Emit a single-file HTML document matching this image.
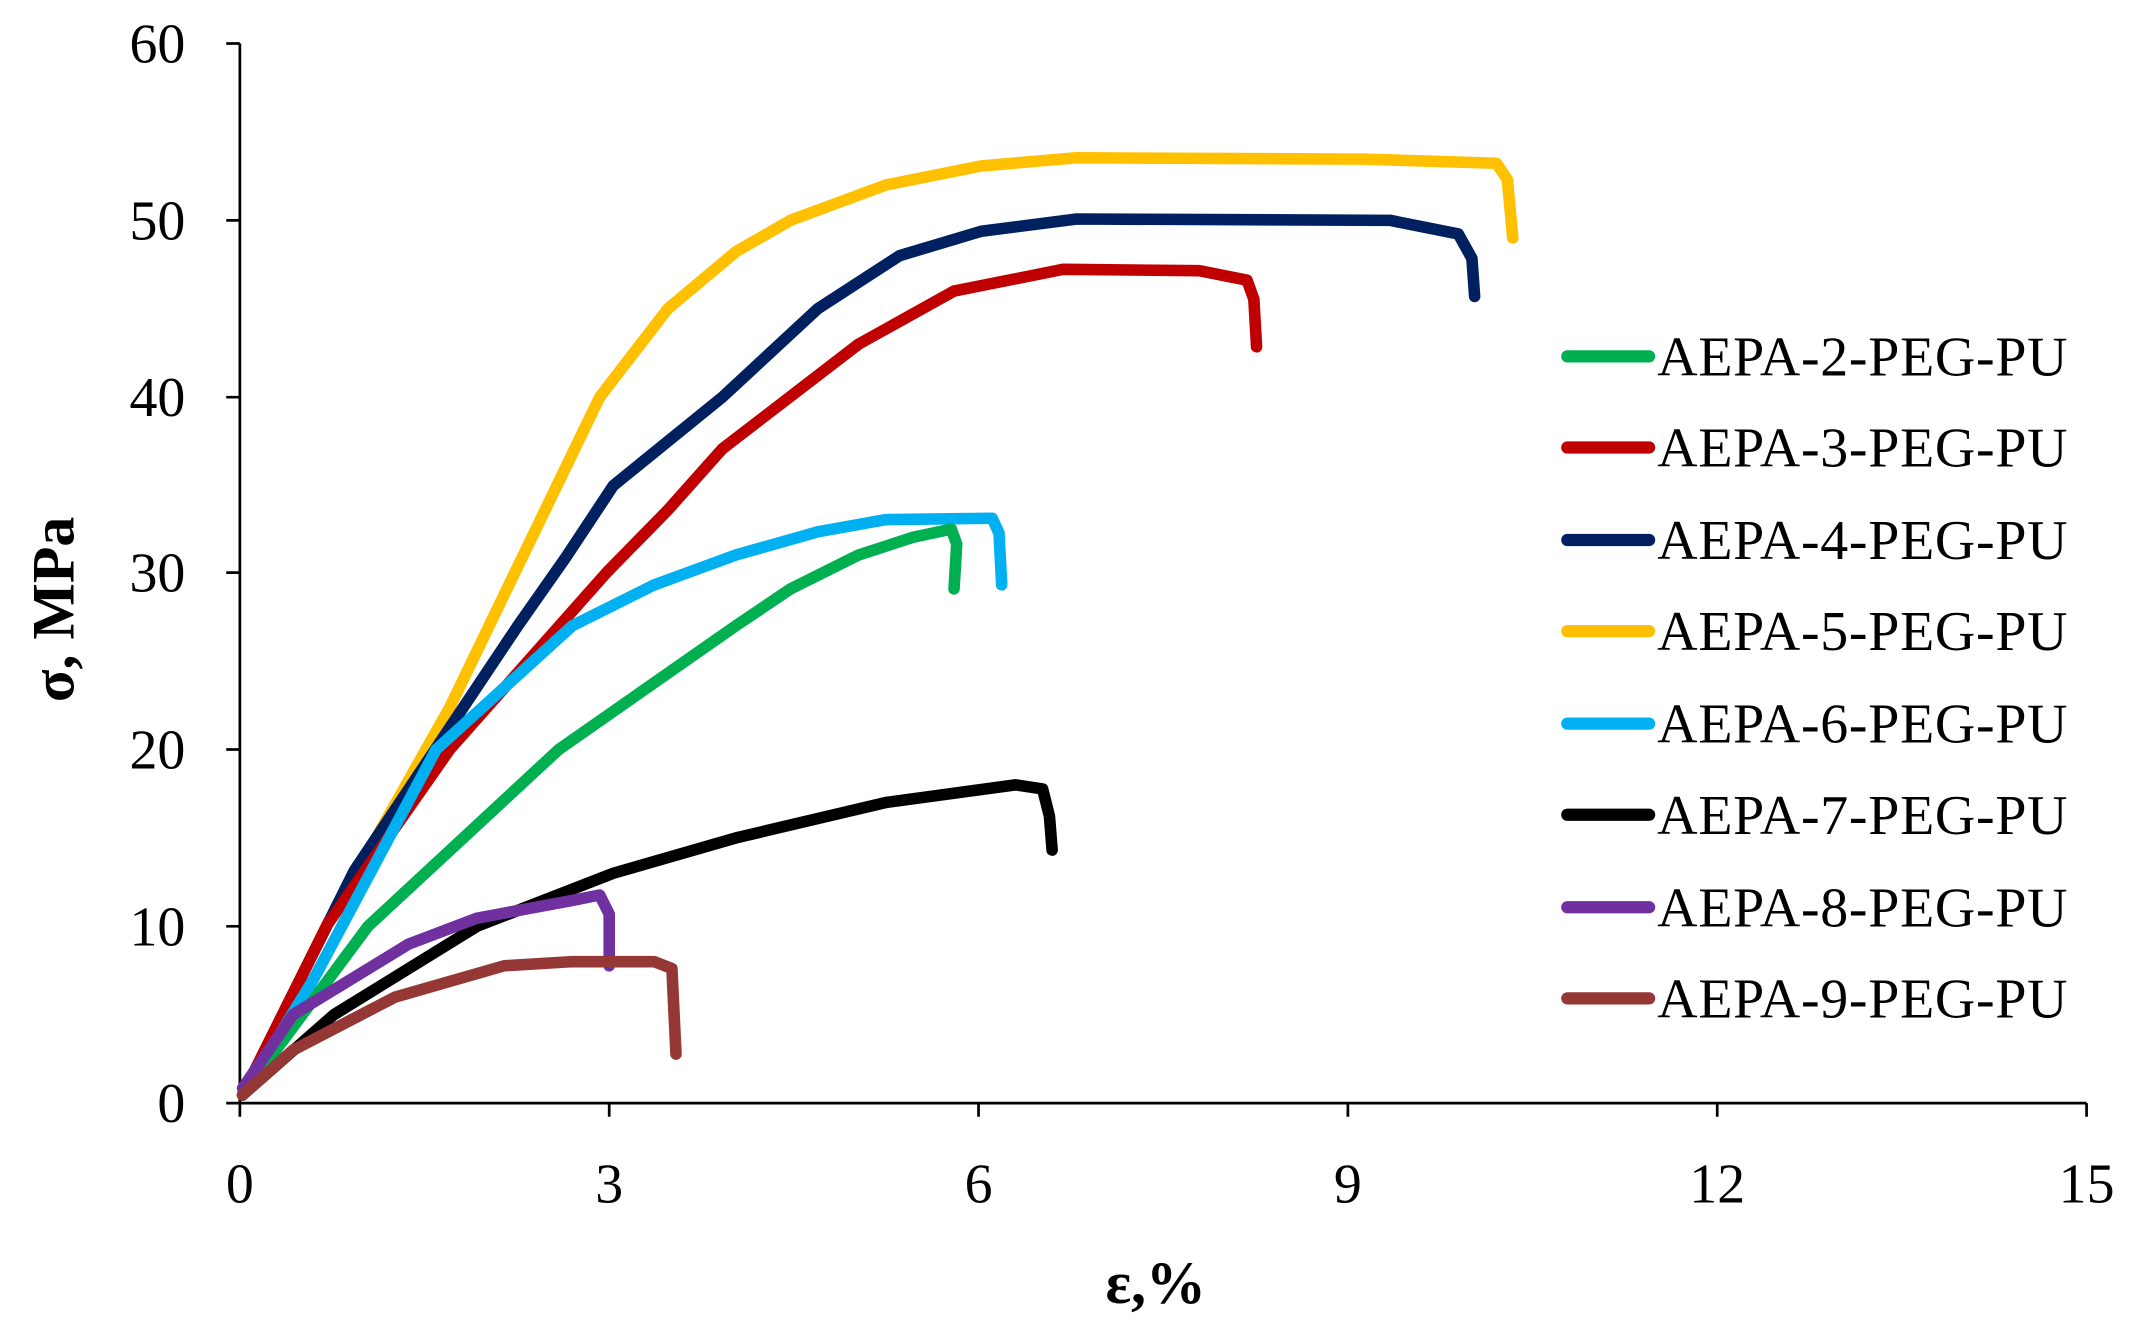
<!DOCTYPE html>
<html><head><style>html,body{margin:0;padding:0;background:#fff}svg{display:block}</style></head><body>
<svg width="2137" height="1333" viewBox="0 0 1568 980" preserveAspectRatio="none" xmlns="http://www.w3.org/2000/svg" font-family="Liberation Serif, serif">
<g stroke="#000" stroke-width="2" fill="none">
<path d="M176,32 V811 H1531"/>
<path d="M176,32 h-10 M176,162 h-10 M176,292 h-10 M176,421 h-10 M176,551 h-10 M176,681 h-10 M176,811 h-10"/>
<path d="M176,811 v10 M447,811 v10 M718,811 v10 M989,811 v10 M1260,811 v10 M1531,811 v10"/>
</g>
<g font-size="41" text-anchor="end" fill="#000">
<text x="136" y="46">60</text><text x="136" y="176">50</text><text x="136" y="306">40</text><text x="136" y="435">30</text><text x="136" y="565">20</text><text x="136" y="695">10</text><text x="136" y="825">0</text>
</g>
<g font-size="41" text-anchor="middle" fill="#000">
<text x="176" y="884">0</text><text x="447" y="884">3</text><text x="718" y="884">6</text><text x="989" y="884">9</text><text x="1260" y="884">12</text><text x="1531" y="884">15</text>
</g>
<text x="848" y="958" font-size="44" font-weight="bold" text-anchor="middle">ε,%</text>
<text transform="translate(54,448) rotate(-90)" font-size="44" font-weight="bold" text-anchor="middle">σ, MPa</text>
<g fill="none" stroke-width="8.5" stroke-linecap="round" stroke-linejoin="round">
<path stroke="#ffc000" d="M178,805 L240,680 L330,520 L440,292 L490,227 L540,185 L580,162 L650,136 L720,122 L790,116 L1000,117 L1098,120 L1106,132 L1110,175"/>
<path stroke="#002060" d="M178,805 L260,640 L380,460 L415,410 L450,357 L530,292 L600,227 L660,188 L720,170 L790,161 L1020,162 L1070,172 L1080,190 L1082,218"/>
<path stroke="#c00000" d="M178,805 L240,680 L330,551 L445,421 L490,375 L530,330 L630,253 L700,214 L780,198 L880,199 L915,206 L920,220 L922,255"/>
<path stroke="#00b0f0" d="M178,805 L230,720 L320,551 L420,460 L480,430 L540,408 L600,391 L650,382 L728,381 L733,392 L735,430"/>
<path stroke="#00b050" d="M178,805 L270,681 L410,551 L540,460 L580,433 L630,408 L670,395 L698,389 L702,400 L700,433"/>
<path stroke="#000000" d="M178,805 L245,746 L350,681 L450,642 L540,616 L650,590 L745,577 L765,580 L770,600 L772,625"/>
<path stroke="#7030a0" d="M178,800 L215,746 L300,694 L350,675 L420,662 L440,658 L447,672 L447,710"/>
<path stroke="#953735" d="M178,805 L215,772 L290,733 L370,710 L420,707 L480,707 L493,712 L496,775"/>
</g>
<g stroke-width="9" stroke-linecap="round">
<line x1="1150" y1="262" x2="1210" y2="262" stroke="#00b050"/>
<line x1="1150" y1="329" x2="1210" y2="329" stroke="#c00000"/>
<line x1="1150" y1="397" x2="1210" y2="397" stroke="#002060"/>
<line x1="1150" y1="464" x2="1210" y2="464" stroke="#ffc000"/>
<line x1="1150" y1="532" x2="1210" y2="532" stroke="#00b0f0"/>
<line x1="1150" y1="599" x2="1210" y2="599" stroke="#000000"/>
<line x1="1150" y1="667" x2="1210" y2="667" stroke="#7030a0"/>
<line x1="1150" y1="734" x2="1210" y2="734" stroke="#953735"/>
</g>
<g font-size="41" fill="#000" textLength="301">
<text x="1216" y="276" textLength="301">AEPA-2-PEG-PU</text>
<text x="1216" y="343" textLength="301">AEPA-3-PEG-PU</text>
<text x="1216" y="411" textLength="301">AEPA-4-PEG-PU</text>
<text x="1216" y="478" textLength="301">AEPA-5-PEG-PU</text>
<text x="1216" y="546" textLength="301">AEPA-6-PEG-PU</text>
<text x="1216" y="613" textLength="301">AEPA-7-PEG-PU</text>
<text x="1216" y="681" textLength="301">AEPA-8-PEG-PU</text>
<text x="1216" y="748" textLength="301">AEPA-9-PEG-PU</text>
</g>
</svg>
</body></html>
